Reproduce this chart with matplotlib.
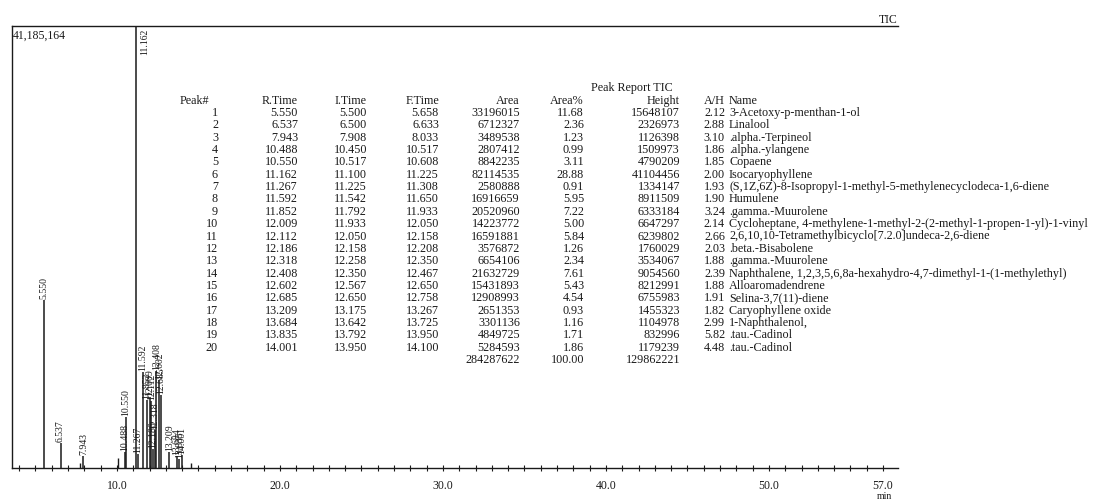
import matplotlib.pyplot as plt

plt.rcParams['font.family'] = ['Liberation Serif', 'DejaVu Serif']

# Peak report TIC
peak_no = list(range(1, 21))
r_time = [5.550, 6.537, 7.943, 10.488, 10.550, 11.162, 11.267, 11.592, 11.852, 12.009,
          12.112, 12.186, 12.318, 12.408, 12.602, 12.685, 13.209, 13.684, 13.835, 14.001]
i_time = [5.500, 6.500, 7.908, 10.450, 10.517, 11.100, 11.225, 11.542, 11.792, 11.933,
          12.050, 12.158, 12.258, 12.350, 12.567, 12.650, 13.175, 13.642, 13.792, 13.950]
f_time = [5.658, 6.633, 8.033, 10.517, 10.608, 11.225, 11.308, 11.650, 11.933, 12.050,
          12.158, 12.208, 12.350, 12.467, 12.650, 12.758, 13.267, 13.725, 13.950, 14.100]
area = [33196015, 6712327, 3489538, 2807412, 8842235, 82114535, 2580888, 16916659, 20520960, 14223772,
        16591881, 3576872, 6654106, 21632729, 15431893, 12908993, 2651353, 3301136, 4849725, 5284593]
area_pct = [11.68, 2.36, 1.23, 0.99, 3.11, 28.88, 0.91, 5.95, 7.22, 5.00,
            5.84, 1.26, 2.34, 7.61, 5.43, 4.54, 0.93, 1.16, 1.71, 1.86]
height = [15648107, 2326973, 1126398, 1509973, 4790209, 41104456, 1334147, 8911509, 6333184, 6647297,
          6239802, 1760029, 3534067, 9054560, 8212991, 6755983, 1455323, 1104978, 832996, 1179239]
ah = [2.12, 2.88, 3.10, 1.86, 1.85, 2.00, 1.93, 1.90, 3.24, 2.14,
      2.66, 2.03, 1.88, 2.39, 1.88, 1.91, 1.82, 2.99, 5.82, 4.48]
names = [
    "3-Acetoxy-p-menthan-1-ol",
    "Linalool",
    ".alpha.-Terpineol",
    ".alpha.-ylangene",
    "Copaene",
    "Isocaryophyllene",
    "(S,1Z,6Z)-8-Isopropyl-1-methyl-5-methylenecyclodeca-1,6-diene",
    "Humulene",
    ".gamma.-Muurolene",
    "Cycloheptane, 4-methylene-1-methyl-2-(2-methyl-1-propen-1-yl)-1-vinyl",
    "2,6,10,10-Tetramethylbicyclo[7.2.0]undeca-2,6-diene",
    ".beta.-Bisabolene",
    ".gamma.-Muurolene",
    "Naphthalene, 1,2,3,5,6,8a-hexahydro-4,7-dimethyl-1-(1-methylethyl)",
    "Alloaromadendrene",
    "Selina-3,7(11)-diene",
    "Caryophyllene oxide",
    "1-Naphthalenol,",
    ".tau.-Cadinol",
    ".tau.-Cadinol",
]
total_area = 284287622
total_pct = 100.00
total_height = 129862221

# small unlabelled peaks seen on the trace
extra_rt = [7.75, 10.08, 14.55]
extra_h = [450000, 950000, 500000]

y_max = 41185164
x_ticks = [10.0, 20.0, 30.0, 40.0, 50.0, 57.0]

W, H = 1113, 502
fig = plt.figure(figsize=(W / 100, H / 100), dpi=100)

def fx(px):
    return px / W

def fy(py):
    return 1 - py / H

ax = fig.add_axes([fx(12), fy(469), (898 - 12) / W, (469 - 27) / H])
ink = '#1a1a1a'

ax.vlines(r_time, 0, height, color=ink, lw=1.1)
ax.vlines(extra_rt, 0, extra_h, color=ink, lw=1.0)

for rt, h in zip(r_time, height):
    lab = f"{rt:.3f}"
    if h > 0.9 * y_max:
        ax.annotate(lab, (rt, y_max), xytext=(3, -1), textcoords='offset points',
                    rotation=90, ha='left', va='top', fontsize=7, color=ink)
    else:
        ax.annotate(lab, (rt, h), xytext=(0, 1.5), textcoords='offset points',
                    rotation=90, ha='center', va='bottom', fontsize=7, color=ink)

ax.set_xlim(3.56, 57.92)
ax.set_ylim(0, y_max)
ax.set_yticks([])
ax.set_xticks(x_ticks)
ax.set_xticklabels([f"{t:.1f}" for t in x_ticks], fontsize=8.5)
ax.set_xticks(range(4, 58), minor=True)
ax.tick_params(axis='x', which='both', direction='inout', length=4, width=0.8, colors=ink, pad=6)
ax.spines['right'].set_visible(False)
for s in ['left', 'top', 'bottom']:
    ax.spines[s].set_color(ink)
    ax.spines[s].set_linewidth(1.0)

fig.text(fx(13), fy(36), "41,185,164", fontsize=8.5, va='center', ha='left', color=ink)
fig.text(fx(898), fy(20), "TIC", fontsize=8.5, va='center', ha='right', color=ink)
fig.text(fx(884), fy(497), "min", fontsize=7, va='center', ha='center', color=ink)

# peak table
fs = 8.7
fig.text(fx(632), fy(88), "Peak Report TIC", fontsize=fs, ha='center', va='center', color=ink)
head_y = 101
headers = [("Peak#", 209), ("R.Time", 298), ("I.Time", 367), ("F.Time", 439),
           ("Area", 520), ("Area%", 584), ("Height", 680), ("A/H", 725)]
for txt, xr in headers:
    fig.text(fx(xr), fy(head_y), txt, fontsize=fs, ha='right', va='center', color=ink)
fig.text(fx(729), fy(head_y), "Name", fontsize=fs, ha='left', va='center', color=ink)

row0, dy = 113, 12.35
for i in range(len(peak_no)):
    y = fy(row0 + i * dy)
    cells = [(str(peak_no[i]), 218), (f"{r_time[i]:.3f}", 298), (f"{i_time[i]:.3f}", 367),
             (f"{f_time[i]:.3f}", 439), (str(area[i]), 520), (f"{area_pct[i]:.2f}", 584),
             (str(height[i]), 680), (f"{ah[i]:.2f}", 725)]
    for txt, xr in cells:
        fig.text(fx(xr), y, txt, fontsize=fs, ha='right', va='center', color=ink)
    fig.text(fx(729), y, names[i], fontsize=fs, ha='left', va='center', color=ink)

y_tot = fy(row0 + len(peak_no) * dy)
fig.text(fx(520), y_tot, str(total_area), fontsize=fs, ha='right', va='center', color=ink)
fig.text(fx(584), y_tot, f"{total_pct:.2f}", fontsize=fs, ha='right', va='center', color=ink)
fig.text(fx(680), y_tot, str(total_height), fontsize=fs, ha='right', va='center', color=ink)

fig.savefig("out.png", dpi=100, facecolor='white')
